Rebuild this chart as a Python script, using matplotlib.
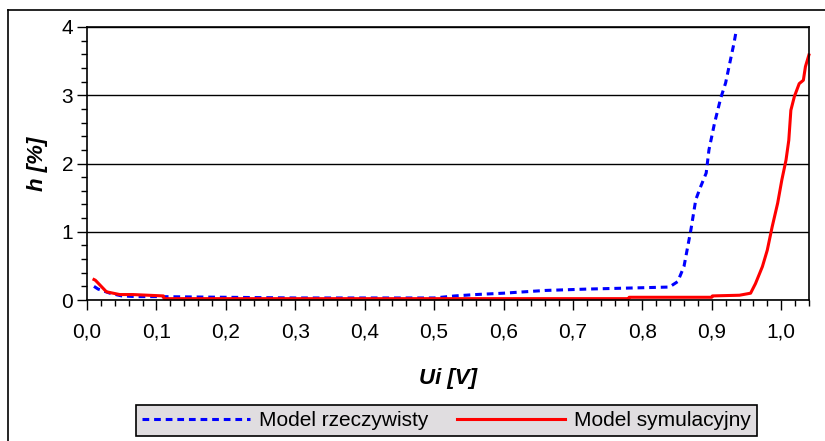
import matplotlib.pyplot as plt
from matplotlib.lines import Line2D
from matplotlib.ticker import MultipleLocator, FuncFormatter

plt.rcParams['font.family'] = ['Liberation Sans', 'DejaVu Sans']

# Model rzeczywisty (blue, dashed)
ui_real = [0.01, 0.016, 0.033, 0.05, 0.07, 0.1, 0.2, 0.3, 0.4, 0.5, 0.53, 0.56,
           0.6, 0.66, 0.72, 0.76, 0.8, 0.839, 0.851, 0.86, 0.87, 0.877, 0.884,
           0.892, 0.896, 0.904, 0.913, 0.92, 0.927, 0.932, 0.935]
h_real = [0.2, 0.16, 0.1, 0.06, 0.05, 0.05, 0.04, 0.03, 0.03, 0.03, 0.06, 0.08,
          0.1, 0.14, 0.16, 0.17, 0.18, 0.19, 0.27, 0.49, 1.03, 1.47, 1.66,
          1.86, 2.2, 2.59, 2.96, 3.18, 3.52, 3.76, 3.93]

# Model symulacyjny (red, solid)
ui_sim = [0.01, 0.012, 0.028, 0.047, 0.066, 0.11, 0.111, 0.3, 0.5, 0.7, 0.78,
          0.781, 0.9, 0.901, 0.94, 0.956, 0.963, 0.973, 0.98, 0.987, 0.995,
          1.001, 1.007, 1.011, 1.014, 1.019, 1.026, 1.032, 1.035, 1.04]
h_sim = [0.3, 0.29, 0.12, 0.08, 0.08, 0.06, 0.02, 0.02, 0.02, 0.02, 0.02,
         0.04, 0.04, 0.06, 0.07, 0.1, 0.24, 0.49, 0.73, 1.07, 1.42,
         1.76, 2.05, 2.34, 2.78, 2.98, 3.17, 3.22, 3.42, 3.59]

fig = plt.figure(figsize=(8.25, 4.41), dpi=100)
ax = fig.add_axes([0.1055, 0.3197, 0.875, 0.6191])

ax.plot(ui_real, h_real, color='#0000ff', lw=2.2, dashes=(2.2, 1.6),
        label='Model rzeczywisty', clip_on=False)
ax.plot(ui_sim, h_sim, color='#ff0000', lw=2.2,
        label='Model symulacyjny', clip_on=False)

ax.set_xlim(0, 1.04)
ax.set_ylim(0, 4)
ax.xaxis.set_major_locator(MultipleLocator(0.1))
ax.xaxis.set_minor_locator(MultipleLocator(0.02))
ax.yaxis.set_major_locator(MultipleLocator(1))
ax.yaxis.set_minor_locator(MultipleLocator(0.2))
ax.xaxis.set_major_formatter(FuncFormatter(lambda v, p: f'{v:.1f}'.replace('.', ',')))
ax.tick_params(which='major', direction='out', length=7, width=1, labelsize=15,
               colors='black', pad=3)
ax.tick_params(which='minor', direction='out', length=4.5, width=1)
ax.tick_params(axis='x', which='major', pad=9)
ax.grid(axis='y', which='major', color='black', lw=1)
for s in ax.spines.values():
    s.set_color('black')
    s.set_linewidth(1.2)

ax.set_xlabel('Ui [V]', fontsize=16, fontweight='bold', fontstyle='italic',
              labelpad=19)
ax.set_ylabel('h [%]', fontsize=16, fontweight='bold', fontstyle='italic',
              labelpad=10)

# outer frame (top and left edges)
fig.add_artist(Line2D([8 / 825, 8 / 825], [0, 1 - 10 / 441], color='black', lw=1.2))
fig.add_artist(Line2D([8 / 825, 1], [1 - 10 / 441, 1 - 10 / 441], color='black', lw=1.2))

leg = fig.legend(loc='center', bbox_to_anchor=(0.541, 0.046), ncol=2,
                 fontsize=15, frameon=True, fancybox=False, handlelength=5.2,
                 handletextpad=0.4, columnspacing=1.4, borderpad=0.3,
                 borderaxespad=0)
leg.get_frame().set_facecolor('#e0dde0')
leg.get_frame().set_edgecolor('black')
leg.get_frame().set_alpha(1)
leg.get_frame().set_linewidth(1.2)

fig.savefig('out.png', dpi=100)
